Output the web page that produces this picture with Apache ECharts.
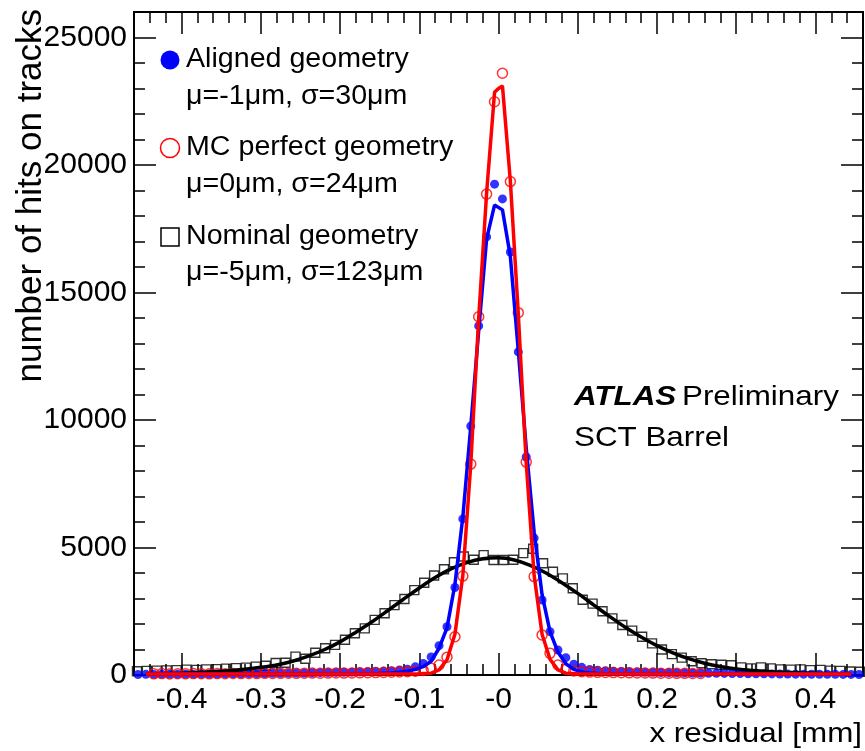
<!DOCTYPE html>
<html><head><meta charset="utf-8">
<script src="https://cdn.jsdelivr.net/npm/echarts@6/dist/echarts.min.js"></script>
<style>html,body{margin:0;padding:0;background:#fff}#c{width:865px;height:751px}</style>
</head><body><div id="c"></div>
<script>
// ---- binning (bin centers) ----
const binsFine = [-0.455,-0.445,-0.435,-0.425,-0.415,-0.405,-0.395,-0.385,-0.375,-0.365,-0.355,-0.345,-0.335,-0.325,-0.315,-0.305,-0.295,-0.285,-0.275,-0.265,-0.255,-0.245,-0.235,-0.225,-0.215,-0.205,-0.195,-0.185,-0.175,-0.165,-0.155,-0.145,-0.135,-0.125,-0.115,-0.105,-0.095,-0.085,-0.075,-0.065,-0.055,-0.045,-0.035,-0.025,-0.015,-0.005,0.005,0.015,0.025,0.035,0.045,0.055,0.065,0.075,0.085,0.095,0.105,0.115,0.125,0.135,0.145,0.155,0.165,0.175,0.185,0.195,0.205,0.215,0.225,0.235,0.245,0.255,0.265,0.275,0.285,0.295,0.305,0.315,0.325,0.335,0.345,0.355,0.365,0.375,0.385,0.395,0.405,0.415,0.425,0.435,0.445,0.455];
const binsNominal = [-0.45625,-0.44375,-0.43125,-0.41875,-0.40625,-0.39375,-0.38125,-0.36875,-0.35625,-0.34375,-0.33125,-0.31875,-0.30625,-0.29375,-0.28125,-0.26875,-0.25625,-0.24375,-0.23125,-0.21875,-0.20625,-0.19375,-0.18125,-0.16875,-0.15625,-0.14375,-0.13125,-0.11875,-0.10625,-0.09375,-0.08125,-0.06875,-0.05625,-0.04375,-0.03125,-0.01875,-0.00625,0.00625,0.01875,0.03125,0.04375,0.05625,0.06875,0.08125,0.09375,0.10625,0.11875,0.13125,0.14375,0.15625,0.16875,0.18125,0.19375,0.20625,0.21875,0.23125,0.24375,0.25625,0.26875,0.28125,0.29375,0.30625,0.31875,0.33125,0.34375,0.35625,0.36875,0.38125,0.39375,0.40625,0.41875,0.43125,0.44375,0.45625];

// ---- histogram contents ----
const alignedCounts = [20,25,22,28,25,30,34,30,36,40,38,45,48,50,55,53,60,66,64,72,76,80,86,92,95,102,108,112,122,130,142,152,170,200,230,320,450,710,1150,1890,3430,6120,9760,13690,17180,19250,
18670,16590,12670,8550,5370,2940,1700,980,680,420,300,220,190,165,150,140,128,118,110,104,98,92,88,82,78,74,70,66,62,58,55,50,48,45,42,40,36,34,32,30,28,26,25,23,22,20];
const mcCounts = [null,null,45,55,40,50,45,55,50,45,55,50,60,55,60,55,65,60,65,70,65,70,75,70,75,80,75,80,85,90,95,100,110,120,130,150,180,260,390,700,1500,3880,8270,14050,18860,22480,
23600,19350,14210,8350,3860,1570,850,390,230,160,130,115,105,100,95,90,85,80,80,75,70,70,65,65,60,60,null,null,null,null,null,null,null,null,null,null,null,null,null,null,null,null,null,null,null,null];
const nominalCounts = [150,160,170,180,190,210,200,220,230,250,270,290,330,360,470,480,720,640,870,1050,1180,1380,1640,1830,2160,2420,2740,2980,3330,3620,3900,4150,4420,4650,4520,4700,4510,
4510,4520,4780,4950,4380,4050,3790,3400,2950,2800,2500,2220,1960,1740,1500,1240,1000,820,680,540,460,420,400,380,300,260,300,260,220,210,220,190,200,170,160,140,130];

// ---- fitted curves ----
const alignedFitX = [-0.445,-0.3,-0.2,-0.15,-0.135,-0.125,-0.115,-0.105,-0.095,-0.085,-0.075,-0.065,-0.055,-0.045,-0.035,-0.025,-0.015,-0.005,0.005,0.015,0.025,0.035,0.045,0.055,0.065,0.075,0.085,0.095,0.105,0.115,0.125,0.135,0.15,0.2,0.3,0.445];
const alignedFitY = [40,40,45,60,80,110,150,220,330,540,1050,1850,3550,6200,9750,13500,17100,18430,18240,16400,12700,8900,5600,3150,1700,900,440,220,120,75,55,50,45,40,40,40];
const mcFitX = [-0.445,-0.2,-0.1,-0.085,-0.075,-0.065,-0.055,-0.045,-0.035,-0.025,-0.015,-0.005,0,0.005,0.015,0.025,0.035,0.045,0.055,0.065,0.075,0.085,0.1,0.2,0.445];
const mcFitY = [40,40,45,70,200,600,1600,3900,8250,14000,18900,22850,23000,23100,19350,14150,8300,3900,1600,620,200,70,45,40,40];
const nominalFitX = [-0.445,-0.42,-0.40,-0.38,-0.36,-0.34,-0.32,-0.30,-0.28,-0.26,-0.24,-0.22,-0.20,-0.18,-0.16,-0.14,-0.12,-0.10,-0.08,-0.06,-0.04,-0.02,0,0.02,0.04,0.06,0.08,0.10,0.12,0.14,0.16,0.18,0.20,0.22,0.24,0.26,0.28,0.30,0.32,0.34,0.36,0.38,0.40,0.42,0.445];
const nominalFitY = [45,55,70,95,125,165,225,300,395,540,740,990,1300,1680,2080,2520,2970,3410,3820,4160,4410,4560,4600,4510,4300,4000,3620,3200,2750,2300,1870,1490,1150,870,640,460,330,240,180,135,105,85,70,55,45];

// ---- ticks / labels ----
const xMajorTicks = [-0.4,-0.3,-0.2,-0.1,0,0.1,0.2,0.3,0.4];
const xTickLabels = ['-0.4','-0.3','-0.2','-0.1','-0','0.1','0.2','0.3','0.4'];
const xMinorTicks = [-0.44,-0.42,-0.38,-0.36,-0.34,-0.32,-0.28,-0.26,-0.24,-0.22,-0.18,-0.16,-0.14,-0.12,-0.08,-0.06,-0.04,-0.02,0.02,0.04,0.06,0.08,0.12,0.14,0.16,0.18,0.22,0.24,0.26,0.28,0.32,0.34,0.36,0.38,0.42,0.44];
const yMajorTicks = [0,5000,10000,15000,20000,25000];
const yTickLabels = ['0','5000','10000','15000','20000','25000'];
const yMinorTicks = [1000,2000,3000,4000,6000,7000,8000,9000,11000,12000,13000,14000,16000,17000,18000,19000,21000,22000,23000,24000];

const seriesNames = ['Aligned geometry','MC perfect geometry','Nominal geometry'];
const seriesStats = ['\u03bc=-1\u03bcm, \u03c3=30\u03bcm','\u03bc=0\u03bcm, \u03c3=24\u03bcm','\u03bc=-5\u03bcm, \u03c3=123\u03bcm'];

function pairs(xs, ys){ const out=[]; xs.forEach((x,i)=>{ if(ys[i]!==null) out.push([x, ys[i]]); }); return out; }
function lbl(vals, labels){ return v => { for(let i=0;i<vals.length;i++){ if(Math.abs(vals[i]-v)<1e-9) return labels[i]; } return ''; }; }

const FONT = 'Liberation Sans';
const axisLine = {show:true, onZero:false, lineStyle:{color:'#000', width:2}};
const tickStyle = {color:'#000', width:1.5};

function xAx(pos, custom, len, labels){
  return {type:'value', min:-0.46, max:0.46, position:pos, gridIndex:0,
    axisLine: axisLine,
    axisTick:{show:true, inside:true, length:len, customValues:custom, lineStyle:tickStyle},
    axisLabel: labels ? {show:true, customValues:xMajorTicks, formatter:lbl(xMajorTicks,xTickLabels), fontFamily:FONT, fontSize:30, color:'#000', margin:10} : {show:false},
    splitLine:{show:false}, minorTick:{show:false}};
}
function yAx(pos, custom, len, labels){
  return {type:'value', min:0, max:26000, position:pos, gridIndex:0,
    axisLine: axisLine,
    axisTick:{show:true, inside:true, length:len, customValues:custom, lineStyle:tickStyle},
    axisLabel: labels ? {show:true, customValues:yMajorTicks, formatter:lbl(yMajorTicks,yTickLabels), fontFamily:FONT, fontSize:30, color:'#000', margin:7} : {show:false},
    splitLine:{show:false}, minorTick:{show:false}};
}

const chart = echarts.init(document.getElementById('c'), null, {renderer:'canvas'});
const legendX = 170, textX = 186;
const legFont = '27px "Liberation Sans"';
chart.setOption({
  animation:false,
  backgroundColor:'#fff',
  grid:{left:134, right:2, top:12, bottom:76, containLabel:false, outerBoundsMode:'none'},
  xAxis:[xAx('bottom', xMajorTicks, 22, true), xAx('bottom', xMinorTicks, 11, false), xAx('top', xMajorTicks, 22, false), xAx('top', xMinorTicks, 11, false)],
  yAxis:[yAx('left', yMajorTicks, 22, true), yAx('left', yMinorTicks, 11, false), yAx('right', yMajorTicks, 22, false), yAx('right', yMinorTicks, 11, false)],
  series:[
    {name:seriesNames[2], type:'scatter', data:pairs(binsNominal, nominalCounts), symbol:'rect', symbolSize:9,
      itemStyle:{color:'rgba(0,0,0,0)', borderColor:'#000', borderWidth:1.4}, silent:true},
    {name:seriesNames[0], type:'scatter', data:pairs(binsFine, alignedCounts), symbol:'circle', symbolSize:9,
      itemStyle:{color:'#0000ff'}, silent:true},
    {name:seriesNames[1], type:'scatter', data:pairs(binsFine, mcCounts), symbol:'circle', symbolSize:10,
      itemStyle:{color:'rgba(0,0,0,0)', borderColor:'#ff0000', borderWidth:1.5}, silent:true},
    {name:seriesNames[2]+' fit', type:'line', data:pairs(nominalFitX, nominalFitY), showSymbol:false, smooth:0.3,
      lineStyle:{color:'#000', width:3.5}, silent:true},
    {name:seriesNames[0]+' fit', type:'line', data:pairs(alignedFitX, alignedFitY), showSymbol:false,
      lineStyle:{color:'#0000ff', width:3.5}, silent:true},
    {name:seriesNames[1]+' fit', type:'line', data:pairs(mcFitX, mcFitY), showSymbol:false,
      lineStyle:{color:'#ff0000', width:3.5}, silent:true}
  ],
  graphic:[
    {type:'circle', shape:{cx:legendX, cy:60, r:9.5}, style:{fill:'#0000ff'}},
    {type:'text', x:textX, y:60, scaleX:1.06, style:{text:seriesNames[0], font:legFont, fill:'#000', verticalAlign:'middle'}},
    {type:'text', x:textX, y:97, scaleX:1.06, style:{text:seriesStats[0], font:legFont, fill:'#000', verticalAlign:'middle'}},
    {type:'circle', shape:{cx:legendX, cy:148, r:9.5}, style:{fill:'none', stroke:'#ff0000', lineWidth:1.5}},
    {type:'text', x:textX, y:148, scaleX:1.06, style:{text:seriesNames[1], font:legFont, fill:'#000', verticalAlign:'middle'}},
    {type:'text', x:textX, y:185, scaleX:1.06, style:{text:seriesStats[1], font:legFont, fill:'#000', verticalAlign:'middle'}},
    {type:'rect', shape:{x:legendX-9, y:228, width:18, height:18}, style:{fill:'none', stroke:'#000', lineWidth:1.5}},
    {type:'text', x:textX, y:237, scaleX:1.06, style:{text:seriesNames[2], font:legFont, fill:'#000', verticalAlign:'middle'}},
    {type:'text', x:textX, y:273, scaleX:1.06, style:{text:seriesStats[2], font:legFont, fill:'#000', verticalAlign:'middle'}},
    {type:'text', x:574, y:397, scaleX:1.12, style:{text:'ATLAS', font:'italic bold 28px "Liberation Sans"', fill:'#000', verticalAlign:'middle'}},
    {type:'text', x:682, y:397, scaleX:1.12, style:{text:'Preliminary', font:'28px "Liberation Sans"', fill:'#000', verticalAlign:'middle'}},
    {type:'text', x:574, y:438, scaleX:1.12, style:{text:'SCT Barrel', font:'28px "Liberation Sans"', fill:'#000', verticalAlign:'middle'}},
    {type:'text', x:862, y:734, scaleX:1.12, style:{text:'x residual [mm]', font:'28px "Liberation Sans"', fill:'#000', align:'right', verticalAlign:'middle'}},
    {type:'text', x:31, y:9, rotation:Math.PI/2, style:{text:'number of hits on tracks', font:'35px "Liberation Sans"', fill:'#000', align:'right', verticalAlign:'middle'}}
  ]
});
</script></body></html>
